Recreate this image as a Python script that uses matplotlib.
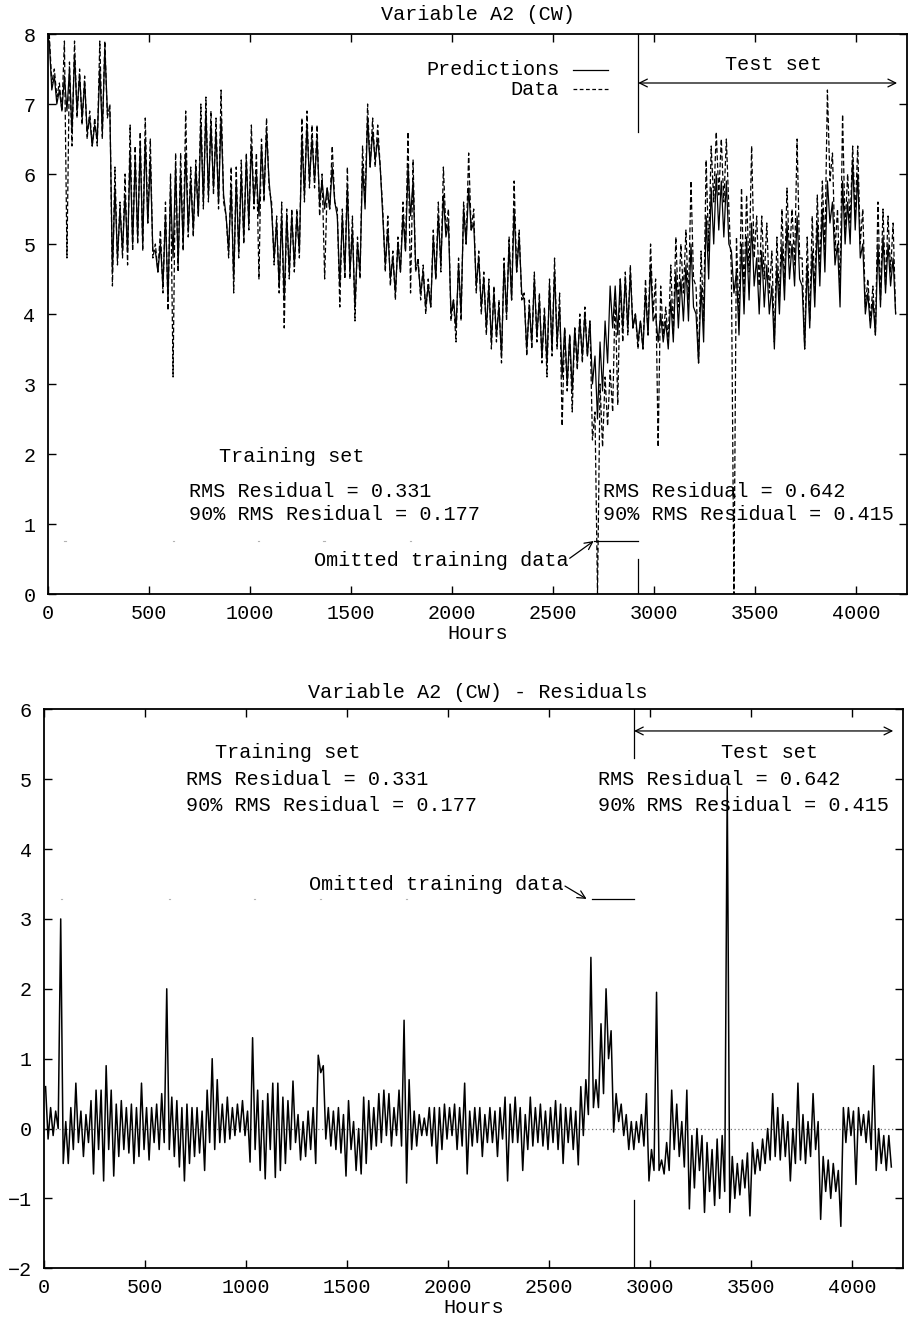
import numpy as np
import matplotlib
matplotlib.use('Agg')
import matplotlib.pyplot as plt

plt.rcParams['font.family'] = ['Liberation Mono', 'DejaVu Sans Mono']

# ---- data: per 25-hour bin, high and low values ----
bin_hours = 25.0

data_hi = [8.0, 7.5, 7.3, 7.9, 7.6, 7.9, 7.5, 7.4,
           6.9, 6.8, 7.9, 7.9, 7.0, 6.1, 5.6, 6.0,
           6.7, 6.4, 6.6, 6.8, 6.5, 5.0, 5.2, 5.6,
           6.0, 6.3, 6.3, 6.9, 6.1, 6.2, 7.0, 7.1,
           6.9, 6.8, 7.2, 5.4, 6.1, 6.1, 6.2, 6.3,
           6.7, 6.3, 6.5, 6.8, 5.6, 5.4, 5.6, 5.5,
           5.5, 5.5, 6.8, 6.9, 6.7, 6.7, 6.0, 5.8,
           6.4, 5.5, 5.5, 6.1, 5.4, 5.1, 6.4, 7.0,
           6.8, 6.7, 5.5, 5.4, 4.9, 5.1, 5.6, 6.6,
           6.2, 4.8, 4.7, 4.5, 5.2, 5.6, 6.1, 5.5,
           4.2, 4.8, 5.6, 6.3, 5.5, 4.9, 4.6, 4.5,
           4.4, 4.2, 4.8, 5.1, 5.9, 5.2, 4.3, 4.2,
           4.6, 4.3, 4.1, 4.5, 4.8, 4.3, 3.8, 3.7,
           3.8, 4.0, 4.1, 3.9, 2.6, 3.0, 3.1, 3.2,
           4.3, 4.5, 4.6, 4.7, 4.0, 3.9, 4.5, 5.0,
           4.5, 4.4, 4.1, 4.7, 5.1, 5.0, 5.2, 5.9,
           4.4, 4.9, 6.2, 6.4, 6.6, 6.5, 6.5, 4.6,
           5.1, 5.8, 5.7, 6.4, 5.4, 5.4, 5.3, 4.9,
           5.1, 5.5, 5.8, 5.5, 6.5, 4.8, 5.1, 5.4,
           5.7, 5.9, 7.2, 6.3, 5.5, 6.85, 6.0, 6.4,
           6.4, 5.5, 4.5, 4.4, 5.6, 5.5, 5.4, 5.3]
data_lo = [7.3, 7.1, 6.9, 4.8, 6.4, 6.8, 6.7, 6.5,
           6.4, 6.4, 6.5, 6.8, 4.4, 4.7, 4.8, 4.7,
           4.9, 5.0, 4.9, 5.3, 4.8, 4.6, 4.3, 4.05,
           3.1, 4.6, 4.9, 5.1, 5.1, 5.4, 5.5, 5.6,
           5.7, 5.5, 5.6, 4.8, 4.3, 4.8, 5.0, 5.2,
           5.5, 4.5, 5.6, 5.8, 4.7, 4.3, 3.8, 4.5,
           4.6, 4.8, 5.6, 5.8, 5.8, 5.4, 4.5, 5.5,
           5.6, 4.1, 4.5, 4.5, 3.9, 4.5, 5.6, 6.1,
           6.1, 6.1, 4.6, 4.4, 4.2, 4.6, 4.9, 4.3,
           4.6, 4.2, 4.0, 4.1, 4.5, 4.6, 5.2, 3.9,
           3.6, 3.9, 5.0, 5.2, 4.3, 4.0, 3.7, 3.5,
           3.6, 3.3, 3.9, 4.2, 4.6, 4.2, 3.4, 3.5,
           3.6, 3.3, 3.1, 3.4, 3.5, 2.4, 2.9, 2.6,
           3.2, 3.3, 3.4, 2.2, 0.0, 2.1, 2.4, 2.6,
           2.7, 3.6, 3.7, 3.8, 3.5, 3.5, 3.7, 4.0,
           2.1, 3.7, 3.6, 3.7, 4.1, 4.3, 4.2, 4.5,
           3.3, 3.9, 4.9, 5.6, 5.7, 5.6, 5.5, 0.0,
           3.9, 4.3, 4.6, 4.8, 4.4, 4.5, 4.3, 3.6,
           4.2, 4.4, 4.8, 4.7, 4.8, 3.5, 3.9, 4.3,
           4.6, 4.9, 5.9, 4.9, 4.3, 5.2, 5.3, 5.4,
           5.0, 4.1, 3.9, 3.7, 4.2, 4.4, 4.6, 4.0]

pred_hi = [7.9, 7.4, 7.2, 7.4, 7.5, 7.7, 7.4, 7.3,
           6.8, 6.7, 7.5, 7.8, 6.9, 5.8, 5.5, 5.7,
           6.3, 6.2, 6.4, 6.5, 6.2, 4.9, 5.0, 5.4,
           5.8, 6.1, 6.0, 6.3, 5.9, 6.1, 6.7, 6.9,
           6.7, 6.6, 6.8, 5.4, 5.8, 5.9, 6.0, 6.2,
           6.4, 6.0, 6.4, 6.6, 5.5, 5.3, 5.4, 5.4,
           5.4, 5.4, 6.5, 6.7, 6.5, 6.5, 5.9, 5.8,
           6.1, 5.4, 5.4, 5.8, 5.2, 5.0, 6.1, 6.8,
           6.6, 6.5, 5.4, 5.2, 4.8, 5.0, 5.4, 6.1,
           5.9, 4.7, 4.6, 4.4, 5.1, 5.4, 5.7, 5.3,
           4.2, 4.7, 5.5, 5.8, 5.3, 4.8, 4.5, 4.4,
           4.3, 4.1, 4.7, 5.0, 5.5, 5.1, 4.2, 4.1,
           4.5, 4.2, 4.0, 4.4, 4.6, 4.1, 3.8, 3.7,
           3.8, 3.9, 4.0, 3.9, 3.4, 3.6, 3.9, 4.4,
           4.4, 4.5, 4.5, 4.6, 4.0, 3.9, 4.3, 4.7,
           4.0, 4.0, 3.9, 4.2, 4.6, 4.5, 4.7, 5.0,
           4.0, 4.4, 5.4, 5.8, 6.0, 5.9, 5.9, 4.9,
           4.6, 5.0, 5.1, 5.3, 4.8, 4.9, 4.7, 4.4,
           4.7, 5.0, 5.3, 5.0, 5.4, 4.4, 4.7, 4.9,
           5.3, 5.5, 5.9, 5.6, 5.0, 5.9, 5.6, 6.2,
           6.0, 5.0, 4.3, 4.2, 5.0, 5.1, 5.0, 4.8]
pred_lo = [7.2, 7.0, 6.9, 6.9, 6.6, 6.9, 6.8, 6.6,
           6.4, 6.5, 6.6, 6.9, 4.6, 4.8, 4.9, 4.9,
           5.0, 5.1, 5.0, 5.3, 4.9, 4.6, 4.4, 4.2,
           4.8, 4.7, 5.0, 5.2, 5.2, 5.4, 5.6, 5.7,
           5.8, 5.6, 5.7, 4.9, 4.5, 4.9, 5.1, 5.3,
           5.6, 5.4, 5.7, 5.9, 4.8, 4.4, 4.2, 4.6,
           4.7, 4.9, 5.7, 5.9, 5.9, 5.6, 5.5, 5.5,
           5.6, 4.4, 4.6, 4.6, 4.1, 4.6, 5.5, 6.1,
           6.2, 6.1, 4.7, 4.5, 4.3, 4.6, 4.9, 5.4,
           4.7, 4.3, 4.1, 4.1, 4.5, 4.7, 5.1, 4.0,
           3.8, 4.0, 5.0, 5.2, 4.4, 4.1, 3.8, 3.6,
           3.7, 3.4, 4.0, 4.2, 4.6, 4.3, 3.5, 3.6,
           3.7, 3.4, 3.3, 3.5, 3.6, 3.1, 3.0, 2.9,
           3.3, 3.4, 3.4, 3.0, 2.5, 2.9, 3.3, 3.8,
           3.7, 3.8, 3.8, 3.8, 3.6, 3.5, 3.7, 3.9,
           3.6, 3.6, 3.5, 3.6, 3.8, 3.9, 3.9, 4.1,
           3.3, 3.6, 4.5, 5.0, 5.2, 5.1, 5.0, 4.3,
           3.7, 4.0, 4.2, 4.4, 4.0, 4.1, 4.0, 3.5,
           4.0, 4.2, 4.5, 4.4, 4.5, 3.5, 3.8, 4.1,
           4.4, 4.6, 5.3, 4.7, 4.1, 5.0, 5.0, 5.2,
           4.8, 4.0, 3.8, 3.7, 4.1, 4.3, 4.4, 4.0]

res_hi = [0.6, 0.3, 0.25, 3.0, 0.1, 0.3, 0.65, 0.25,
          0.2, 0.4, 0.55, 0.55, 0.9, 0.55, 0.35, 0.4,
          0.3, 0.35, 0.3, 0.65, 0.3, 0.3, 0.35, 0.5,
          2.0, 0.45, 0.4, 0.3, 0.35, 0.3, 0.3, 0.25,
          0.55, 1.0, 0.7, 0.35, 0.45, 0.3, 0.35, 0.4,
          0.25, 1.3, 0.55, 0.4, 0.5, 0.65, 0.65, 0.45,
          0.4, 0.68, 0.2, 0.1, 0.25, 0.3, 1.05, 0.9,
          0.3, 0.25, 0.3, 0.2, 0.4, 0.1, 0.0, 0.45,
          0.4, 0.3, 0.5, 0.55, 0.5, 0.3, 0.55, 1.55,
          0.7, 0.25, 0.2, 0.15, 0.3, 0.3, 0.3, 0.35,
          0.3, 0.35, 0.3, 0.65, 0.25, 0.3, 0.3, 0.2,
          0.3, 0.25, 0.3, 0.45, 0.35, 0.45, 0.3, 0.2,
          0.45, 0.3, 0.35, 0.25, 0.3, 0.4, 0.35, 0.3,
          0.3, 0.25, 0.6, 0.7, 2.45, 0.7, 1.5, 2.0,
          1.4, 0.5, 0.35, 0.2, 0.1, 0.1, 0.2, 0.5,
          -0.3, 1.95, -0.45, -0.2, 0.55, 0.35, 0.1, 0.55,
          -0.1, 0.0, -0.1, -0.2, -0.3, -0.15, -0.1, 4.9,
          -0.4, -0.5, -0.45, -0.35, -0.2, -0.3, -0.15, 0.0,
          0.5, 0.3, 0.2, 0.1, 0.0, 0.65, 0.2, 0.1,
          0.5, 0.1, -0.4, -0.45, -0.5, -0.6, 0.3, 0.3,
          0.25, 0.3, 0.2, 0.25, 0.9, 0.0, -0.1, -0.1]
res_lo = [-0.15, -0.1, 0.0, -0.5, -0.5, -0.3, -0.2, -0.4,
          -0.2, -0.65, -0.3, -0.75, -0.3, -0.68, -0.4, -0.3,
          -0.35, -0.5, -0.4, -0.3, -0.45, -0.2, -0.3, -0.2,
          -0.3, -0.4, -0.55, -0.75, -0.5, -0.4, -0.35, -0.6,
          -0.2, -0.3, -0.2, -0.2, -0.15, -0.1, -0.05, -0.1,
          -0.48, -0.3, -0.6, -0.72, -0.3, -0.7, -0.6, -0.5,
          -0.3, -0.2, -0.45, -0.4, -0.3, -0.5, 0.8, -0.15,
          -0.25, -0.3, -0.35, -0.68, -0.3, -0.6, -0.65, -0.5,
          -0.3, -0.25, -0.2, -0.1, -0.25, -0.1, -0.25, -0.78,
          -0.3, -0.25, -0.1, -0.1, -0.25, -0.5, -0.3, -0.15,
          -0.1, -0.3, -0.25, -0.65, -0.25, -0.2, -0.4, -0.2,
          -0.2, -0.4, -0.15, -0.75, -0.2, -0.2, -0.6, -0.3,
          -0.25, -0.2, -0.25, -0.3, -0.2, -0.3, -0.5, -0.2,
          -0.3, -0.52, -0.1, 0.2, 0.3, 0.3, 0.5, 1.0,
          -0.05, 0.1, -0.1, -0.3, -0.3, -0.2, -0.25, -0.75,
          -0.6, -0.6, -0.65, -0.6, -0.3, -0.4, -0.55, -1.15,
          -0.85, -0.6, -1.2, -0.9, -1.1, -1.0, -0.9, -1.2,
          -1.0, -0.95, -0.85, -1.25, -0.65, -0.6, -0.5, -0.45,
          -0.4, -0.45, -0.4, -0.75, -0.5, -0.45, -0.5, -0.4,
          -0.3, -1.3, -0.9, -1.0, -0.9, -1.4, -0.2, -0.1,
          -0.8, -0.1, -0.2, -0.3, -0.6, -0.5, -0.6, -0.55]

omitted_hours = [84, 619, 1040, 1366, 1792]
test_start = 2920
test_end = 4201
x_ticks = [0, 500, 1000, 1500, 2000, 2500, 3000, 3500, 4000]
top_y_ticks = [0, 1, 2, 3, 4, 5, 6, 7, 8]
bot_y_ticks = [-2, -1, 0, 1, 2, 3, 4, 5, 6]
train_rms, train_rms90 = "0.331", "0.177"
test_rms, test_rms90 = "0.642", "0.415"


def zigzag(hi, lo):
    hi = np.asarray(hi, float)
    lo = np.asarray(lo, float)
    v = np.empty(2 * len(hi))
    v[0::2] = hi
    v[1::2] = lo
    t = np.arange(len(v)) * (bin_hours / 2) + bin_hours / 4
    return t, v


FS = 14.5
W, H = 916, 1319
fig = plt.figure(figsize=(W / 100, H / 100), dpi=100)

ax1 = fig.add_axes([48 / W, (H - 594) / H, (907 - 48) / W, (594 - 34) / H])
ax2 = fig.add_axes([44.3 / W, (H - 1268.3) / H, (902.7 - 44.3) / W, (1268.3 - 709.3) / H])

for ax in (ax1, ax2):
    ax.set_xlim(0, 4250)
    ax.set_xticks(x_ticks)
    ax.tick_params(direction='in', length=6, width=1.0, top=True, right=True,
                   labelsize=FS, pad=7)
    ax.tick_params(axis='y', pad=9)
    for s in ax.spines.values():
        s.set_linewidth(1.3)
    ax.set_xlabel('Hours', fontsize=FS, labelpad=1)

# ---------------- top panel ----------------
t, dv = zigzag(data_hi, data_lo)
tp, pv = zigzag(pred_hi, pred_lo)
ax1.plot(t, dv, color='black', lw=0.9, linestyle=(0, (4, 2)))
ax1.plot(tp, pv, color='black', lw=0.9)
ax1.set_ylim(0, 8)
ax1.set_yticks(top_y_ticks)
fig.text(478 / W, 1 - 14 / H, 'Variable A2 (CW)', ha='center', va='center', fontsize=FS)

# legend
ax1.text(2530, 7.486, 'Predictions', ha='right', va='center', fontsize=FS)
ax1.text(2530, 7.214, 'Data', ha='right', va='center', fontsize=FS)
ax1.plot([2599, 2772], [7.486, 7.486], color='black', lw=0.9)
ax1.plot([2599, 2772], [7.214, 7.214], color='black', lw=0.9, linestyle=(0, (3, 2)))

ax1.plot([test_start, test_start], [6.6, 8], color='black', lw=0.9)
ax1.annotate('', xy=(test_end, 7.30), xytext=(test_start, 7.30),
             arrowprops=dict(arrowstyle='<->', lw=0.9, color='black',
                             shrinkA=0, shrinkB=0, mutation_scale=14))
ax1.text(3589, 7.57, 'Test set', ha='center', va='center', fontsize=FS)
ax1.text(1207, 1.97, 'Training set', ha='center', va='center', fontsize=FS)
ax1.text(698, 1.47, 'RMS Residual = ' + train_rms, ha='left', va='center', fontsize=FS)
ax1.text(698, 1.13, '90% RMS Residual = ' + train_rms90, ha='left', va='center', fontsize=FS)
ax1.text(2746, 1.47, 'RMS Residual = ' + test_rms, ha='left', va='center', fontsize=FS)
ax1.text(2746, 1.13, '90% RMS Residual = ' + test_rms90, ha='left', va='center', fontsize=FS)
ax1.plot([2700, test_start], [0.757, 0.757], color='black', lw=0.9)
ax1.text(2574, 0.476, 'Omitted training data', ha='right', va='center', fontsize=FS)
ax1.annotate('', xy=(2700, 0.757), xytext=(2581, 0.51),
             arrowprops=dict(arrowstyle='->', lw=0.9, color='black',
                             shrinkA=0, shrinkB=0, mutation_scale=14))
ax1.plot([test_start, test_start], [0, 0.5], color='black', lw=0.9)
for h in omitted_hours:
    ax1.plot([h - 3, h + 3], [0.757, 0.757], color='0.7', lw=0.8)

# ---------------- bottom panel ----------------
tr, rv = zigzag(res_hi, res_lo)
ax2.plot([0, 4200], [0, 0], color='0.45', lw=0.9, linestyle=(0, (1, 2)))
ax2.plot(tr, rv, color='black', lw=1.1)
ax2.set_ylim(-2, 6)
ax2.set_yticks(bot_y_ticks)
fig.text(478 / W, 1 - 692 / H, 'Variable A2 (CW) - Residuals', ha='center', va='center', fontsize=FS)

ax2.plot([test_start, test_start], [5.31, 6], color='black', lw=0.9)
ax2.annotate('', xy=(4203, 5.69), xytext=(test_start, 5.69),
             arrowprops=dict(arrowstyle='<->', lw=0.9, color='black',
                             shrinkA=0, shrinkB=0, mutation_scale=14))
ax2.text(3592, 5.38, 'Test set', ha='center', va='center', fontsize=FS)
ax2.text(1205, 5.38, 'Training set', ha='center', va='center', fontsize=FS)
ax2.text(700, 4.99, 'RMS Residual = ' + train_rms, ha='left', va='center', fontsize=FS)
ax2.text(700, 4.63, '90% RMS Residual = ' + train_rms90, ha='left', va='center', fontsize=FS)
ax2.text(2743, 4.99, 'RMS Residual = ' + test_rms, ha='left', va='center', fontsize=FS)
ax2.text(2743, 4.63, '90% RMS Residual = ' + test_rms90, ha='left', va='center', fontsize=FS)
ax2.text(2569, 3.49, 'Omitted training data', ha='right', va='center', fontsize=FS)
ax2.annotate('', xy=(2685, 3.286), xytext=(2578, 3.47),
             arrowprops=dict(arrowstyle='->', lw=0.9, color='black',
                             shrinkA=0, shrinkB=0, mutation_scale=14))
ax2.plot([2710, test_start], [3.29, 3.29], color='black', lw=0.9)
ax2.plot([test_start, test_start], [-2, -1.02], color='black', lw=0.9)
for h in omitted_hours:
    ax2.plot([h - 3, h + 3], [3.29, 3.29], color='0.7', lw=0.8)

fig.savefig('out.png', dpi=100)
